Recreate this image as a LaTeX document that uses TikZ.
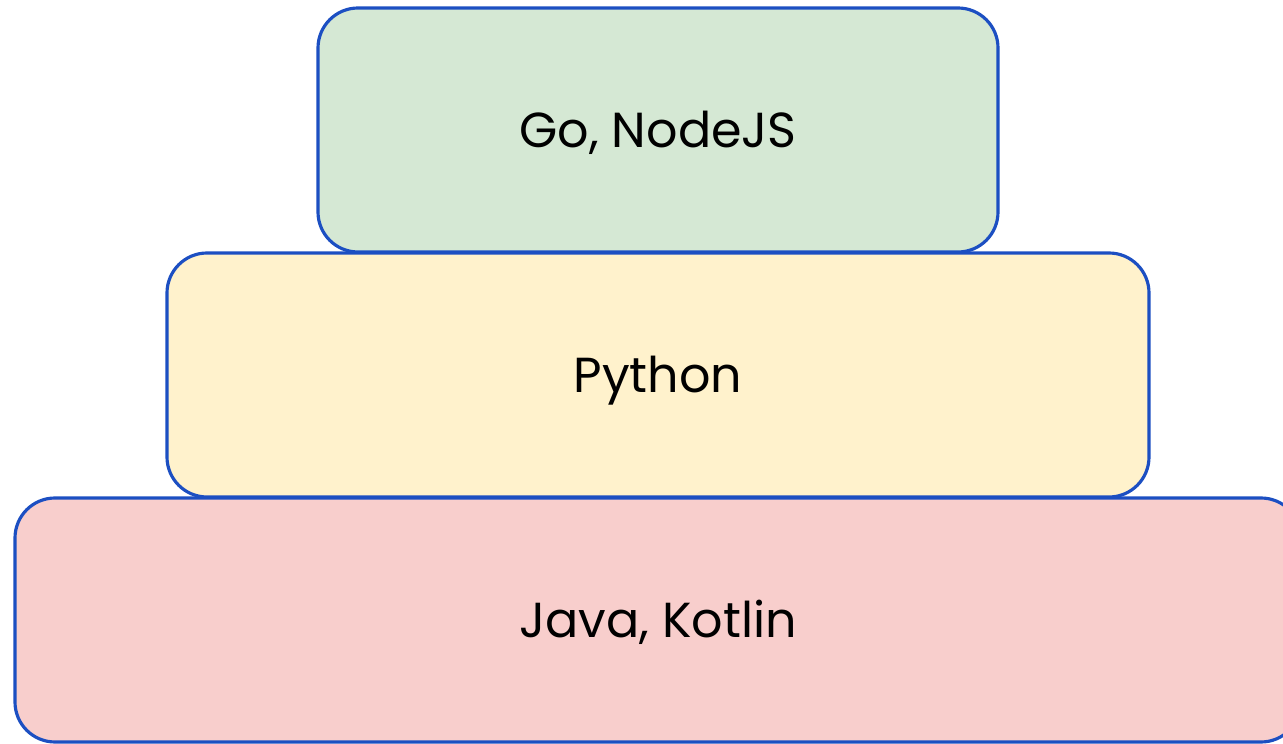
\documentclass[tikz,border=0pt]{standalone}
\usepackage{fontspec}
\setmainfont{Poppins}
\usepackage{tikz}

\definecolor{tierblue}{HTML}{1C4FC2}
\definecolor{tiergreen}{HTML}{D5E8D4}
\definecolor{tieryellow}{HTML}{FFF2CC}
\definecolor{tierred}{HTML}{F8CECC}

\tikzset{
    tier/.style={draw=tierblue, line width=1.8pt, rounded corners=0.8cm,
        minimum height=4.88cm, text height=19.5pt, text depth=0pt,
        font=\fontsize{28}{33}\selectfont, text=black}
}

\begin{document}
\begin{tikzpicture}
    \useasboundingbox (0,0) rectangle (25.66,14.86);
    \clip (0,0) rectangle (25.66,14.86);
    \node[tier, fill=tierred, minimum width=25.72cm] (javakotlin) at (13.16,2.46) {Java, Kotlin};
    \node[tier, fill=tieryellow, minimum width=19.64cm] (python) at (13.16,7.36) {Python};
    \node[tier, fill=tiergreen, minimum width=13.6cm] (gonode) at (13.16,12.26) {Go, NodeJS};
\end{tikzpicture}
\end{document}
